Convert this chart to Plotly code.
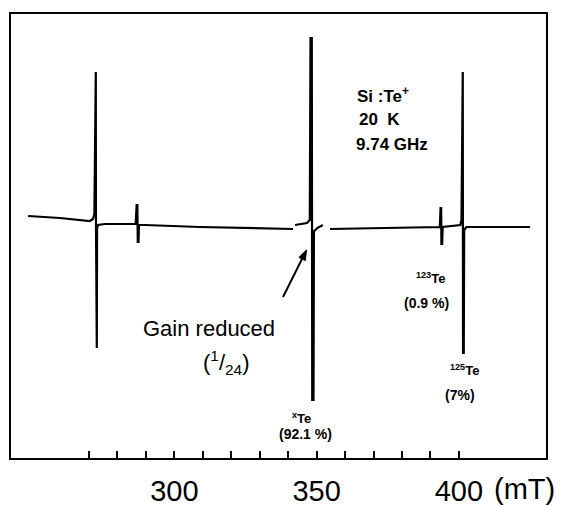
import plotly.graph_objects as go

# ---- data (field in mT, signal in arbitrary units) ----
seg1_field = [248.6, 259.8, 270.3, 271.4, 271.9, 272.2, 272.4, 272.45, 272.5, 272.75, 272.85, 273.2,
              275.6, 286.4, 286.75, 287.0, 287.15, 287.4, 287.55, 289.7, 309.0, 341.7]
seg1_signal = [12, 10, 7, 9, 14, 156, 156, 10, -120, -120, 0, 3,
               4, 4, 23, 23, -14, -14, 3, 3, 1, -1]

# gain reduced (1/24) section around the central line
seg2_field = [342.4, 346.6, 347.6, 347.85, 348.3, 348.45, 348.9, 349.05, 349.6, 350.2, 352.2]
seg2_signal = [3, 5, 8, 190, 190, -172, -172, -3, -2, 0, 3]

seg3_field = [354.7, 380.0, 393.3, 393.55, 393.75, 393.85, 394.1, 394.3, 400.5, 400.9, 401.1,
              401.35, 401.45, 401.7, 401.85, 402.6, 425.0]
seg3_signal = [-1, 0, 1, 20, 20, -16, -16, 1, 3, 8, 156,
               156, -125, -125, -2, 1, 1]

major_ticks = [300, 350, 400]
major_labels = ["300", "350", "400"]
minor_ticks = [270, 280, 290, 310, 320, 330, 340, 360, 370, 380, 390]

field = seg1_field + [None] + seg2_field + [None] + seg3_field
signal = seg1_signal + [None] + seg2_signal + [None] + seg3_signal

X_RANGE = [242.6, 430.6]

fig = go.Figure()
fig.add_trace(go.Scatter(x=field, y=signal, mode="lines",
                         line=dict(color="black", width=2.2), connectgaps=False,
                         hoverinfo="skip", showlegend=False))
# invisible trace carrying the minor-tick axis
fig.add_trace(go.Scatter(x=[X_RANGE[0]], y=[0], xaxis="x2", mode="markers",
                         marker=dict(opacity=0), hoverinfo="skip", showlegend=False))

W, H = 563, 506
L, R, T, B = 11, 546, 14, 458


def px(x, y):
    return (x - L) / (R - L), (B - y) / (B - T)


def label(text, x, y, size, bold=True, family="Liberation Sans", xanchor="center"):
    xp, yp = px(x, y)
    fig.add_annotation(xref="paper", yref="paper", x=xp, y=yp, text=text,
                       showarrow=False, xanchor=xanchor, yanchor="middle",
                       font=dict(family=family, size=size, color="black",
                                 weight="bold" if bold else "normal"))


label("Si :Te<sup>+</sup>", 355, 95, 17, xanchor="left")
label("20  K", 357, 119, 17, xanchor="left")
label("9.74 GHz", 354, 144, 17, xanchor="left")
label("Gain reduced", 209, 328, 22, bold=False)
label("(<sup>1</sup>/<sub>24</sub>)", 226, 362, 22, bold=False)
label("<sup>x</sup>Te", 301, 418, 13)
label("(92.1 %)", 305, 434, 14)
label("<sup>123</sup>Te", 430, 278, 13)
label("(0.9 %)", 426, 303, 14)
label("<sup>125</sup>Te", 464, 370, 13)
label("(7%)", 460, 395, 14)

# arrow pointing at the gain-reduced trace (shaft + filled head)
x0, y0 = px(283, 297)
x1, y1 = px(303, 257)
fig.add_shape(type="line", xref="paper", yref="paper", x0=x0, y0=y0, x1=x1, y1=y1,
              line=dict(color="black", width=2))
tip = px(306.5, 250)
b1 = px(305.3, 260.6)
b2 = px(298.9, 257.4)
fig.add_shape(type="path", xref="paper", yref="paper",
              path=f"M {tip[0]} {tip[1]} L {b1[0]} {b1[1]} L {b2[0]} {b2[1]} Z",
              fillcolor="black", line=dict(color="black", width=1))

# unit label next to "400"
fig.add_annotation(x=400, y=0, xref="x", yref="paper", text="(mT)", showarrow=False,
                   xanchor="left", yanchor="middle", xshift=33, yshift=-31,
                   font=dict(family="Liberation Sans", size=29, color="black"))

fig.update_layout(
    xaxis=dict(range=X_RANGE, tickvals=major_ticks, ticktext=major_labels,
               ticks="inside", ticklen=7, tickwidth=2, tickcolor="black",
               ticklabelstandoff=6, automargin=False,
               showline=True, linecolor="black", linewidth=2, mirror=True,
               showgrid=False, zeroline=False,
               tickfont=dict(family="Liberation Sans", size=29, color="black")),
    xaxis2=dict(range=X_RANGE, overlaying="x", side="bottom", anchor="y",
                tickvals=minor_ticks, showticklabels=False, automargin=False,
                ticks="inside", ticklen=7, tickwidth=2, tickcolor="black",
                showline=False, showgrid=False, zeroline=False),
    yaxis=dict(range=[228 - B, 228 - T], showticklabels=False, ticks="",
               automargin=False,
               showline=True, linecolor="black", linewidth=2, mirror=True,
               showgrid=False, zeroline=False),
    width=W, height=H, margin=dict(l=L, r=W - R, t=T, b=H - B),
    paper_bgcolor="white", plot_bgcolor="white",
)

fig.write_html("out.html")
